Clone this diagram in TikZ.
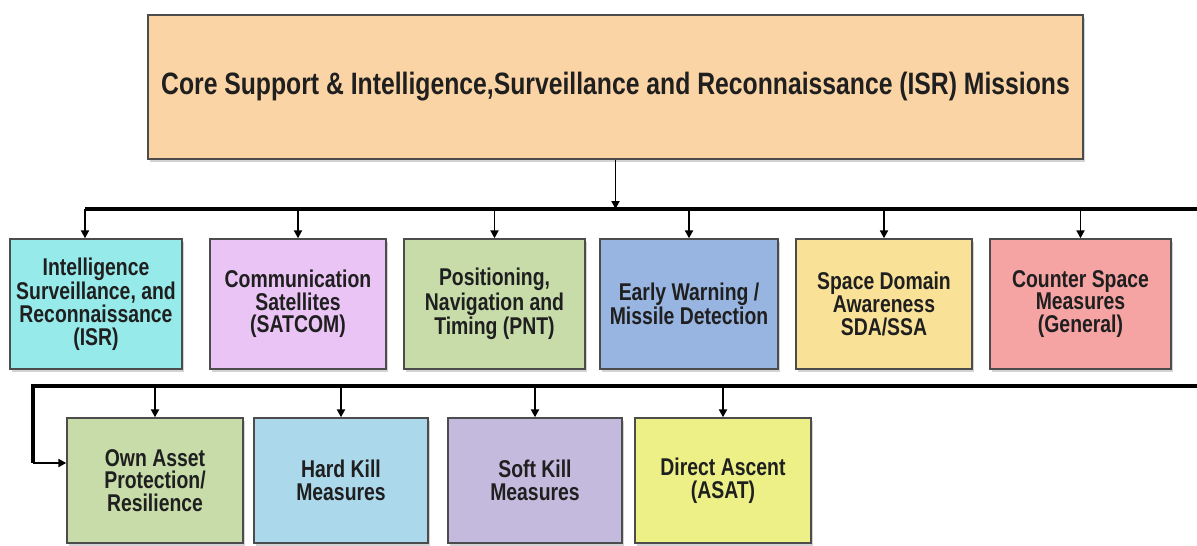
\documentclass[tikz,border=0pt]{standalone}
\usepackage{fontspec}
\setmainfont{Liberation Sans}[FakeStretch=0.8]
\usetikzlibrary{arrows.meta, shadows}
\definecolor{corepeach}{RGB}{250, 212, 165}
\definecolor{isrcyan}{RGB}{150, 234, 234}
\definecolor{satpink}{RGB}{234, 196, 244}
\definecolor{pntgreen}{RGB}{200, 220, 170}
\definecolor{ewblue}{RGB}{152, 180, 224}
\definecolor{sdayellow}{RGB}{249, 226, 152}
\definecolor{cssalmon}{RGB}{245, 163, 163}
\definecolor{hkblue}{RGB}{172, 216, 236}
\definecolor{sklilac}{RGB}{196, 186, 221}
\definecolor{dayellow}{RGB}{236, 240, 134}

\begin{document}
\begin{tikzpicture}[x=0.02cm, y=-0.02cm,
    every node/.style={font=\bfseries\fontsize{13.8}{12.9}\selectfont, text=black!88, align=center},
    box/.style={draw=black!70, line width=0.8pt, inner sep=2pt,
      drop shadow={shadow xshift=1pt, shadow yshift=-1.5pt, opacity=0.35}},
    bus/.style={line width=2pt},
    stub/.style={line width=1.1pt, -{Triangle[length=4.5pt, width=4.5pt]}}]
  \useasboundingbox (0,0) rectangle (1197,545);
  % Top mission box
  \node[box, fill=corepeach, minimum width=18.7cm, minimum height=2.88cm,
        font=\bfseries\fontsize{17.6}{20}\selectfont] (core) at (615.5,87)
    {Core Support \& Intelligence,Surveillance and Reconnaissance (ISR) Missions};
  % First row
  \foreach \name/\cx/\w/\col/\txt in {
      isr/96/3.44/isrcyan/{Intelligence\\Surveillance, and\\Reconnaissance\\(ISR)},
      satcom/298/3.52/satpink/{Communication\\Satellites\\(SATCOM)},
      pnt/494.5/3.62/pntgreen/{Positioning,\\Navigation and\\Timing (PNT)},
      ew/689/3.56/ewblue/{Early Warning /\\Missile Detection},
      sda/884/3.52/sdayellow/{Space Domain\\Awareness\\SDA/SSA},
      cs/1080.5/3.62/cssalmon/{Counter Space\\Measures\\(General)}}{
    \node[box, fill=\col, minimum width=\w cm, minimum height=2.6cm] (\name) at (\cx,304) {\txt};
  }
  % Second row
  \foreach \name/\cx/\w/\col/\txt in {
      own/155/3.52/pntgreen/{Own Asset\\Protection/\\Resilience},
      hard/341/3.48/hkblue/{Hard Kill\\Measures},
      soft/535/3.48/sklilac/{Soft Kill\\Measures},
      direct/723/3.52/dayellow/{Direct Ascent\\(ASAT)}}{
    \node[box, fill=\col, minimum width=\w cm, minimum height=2.5cm] (\name) at (\cx,480.5) {\txt};
  }
  % Bus lines
  \coordinate (busa) at (85,209);
  \coordinate (busb) at (1202,209);
  \coordinate (busc) at (1202,386);
  \coordinate (busd) at (33,386);
  \coordinate (buse) at (33,463);
  \draw[stub] (core.south) -- (core.south |- busa);
  \draw[bus] (busa) -- (busb) -- (busc) -- (busd) -- (buse);
  \draw[stub, line width=1.6pt] (buse) -- (own.west |- buse);
  \draw[stub] (busa) -- (busa |- isr.north);
  \foreach \n in {satcom, pnt, ew, sda, cs}
    \draw[stub] (\n.north |- busa) -- (\n.north);
  \foreach \n in {own, hard, soft, direct}
    \draw[stub] (\n.north |- busd) -- (\n.north);
\end{tikzpicture}
\end{document}
